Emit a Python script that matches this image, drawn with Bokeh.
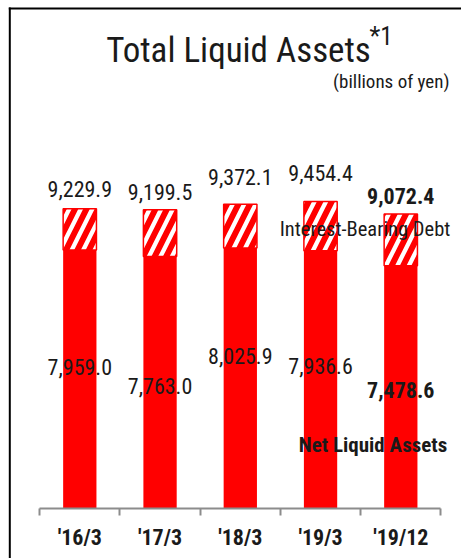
from bokeh.plotting import figure
from bokeh.models import ColumnDataSource, LinearAxis, FixedTicker, Range1d
from bokeh.core.properties import value
from bokeh.embed import file_html
from bokeh.resources import INLINE

# ---- data ----
categories = ["'16/3", "'17/3", "'18/3", "'19/3", "'19/12"]
total_liquid = [9229.9, 9199.5, 9372.1, 9454.4, 9072.4]
net_liquid = [7959.0, 7763.0, 8025.9, 7936.6, 7478.6]
total_labels = ["9,229.9", "9,199.5", "9,372.1", "9,454.4", "9,072.4"]
net_labels = ["7,959.0", "7,763.0", "8,025.9", "7,936.6", "7,478.6"]
label_weight = ["normal", "normal", "normal", "normal", "bold"]

# ---- layout (pixels) ----
W, H = 461, 558
SCALE = 0.03247          # pixels per billion yen
ZERO_PX = 508            # canvas y of zero
CAT_PX = 80.25           # pixels per category
X0_PX = 79.3             # canvas x of first category centre
BASE_FIX = 0.36          # baseline correction (fraction of font size)

top_gap_px = [12, 10, 19, 21, 10]
net_gap_px = [125, 137.5, 116, 123, 132]
VAL_SIZE = 22

FONT = "Roboto Condensed, DejaVu Sans Condensed, Arial Narrow, Liberation Sans, sans-serif"
TXT = "#1a1a1a"
RED = "#ff0000"

def dy(page_y):
    return (ZERO_PX - page_y) / SCALE

def dx(page_x):
    return (page_x - X0_PX) / CAT_PX

x = list(range(len(categories)))

p = figure(width=W, height=H, output_backend="svg", toolbar_location=None,
           x_axis_location=None, y_axis_location=None, min_border=0,
           x_range=Range1d(dx(0), dx(W)),
           y_range=Range1d(dy(H), dy(0)))
p.outline_line_color = None
p.background_fill_color = "white"
p.border_fill_color = "white"
p.xgrid.visible = False
p.ygrid.visible = False
p.grid.grid_line_color = None

# frame lines (top and left)
p.segment(x0=[dx(8.3)], y0=[dy(8)], x1=[dx(W + 5)], y1=[dy(8)],
          line_color="black", line_width=2)
p.segment(x0=[dx(9.3)], y0=[dy(7)], x1=[dx(9.3)], y1=[dy(H + 5)],
          line_color="black", line_width=2)

fix = BASE_FIX * VAL_SIZE
src = ColumnDataSource(dict(
    x=x, cat=categories, total=total_liquid, net=net_liquid,
    tlab=total_labels, nlab=net_labels, weight=label_weight,
    ty=[t + (g + fix) / SCALE for t, g in zip(total_liquid, top_gap_px)],
    ny=[n - (g - fix) / SCALE for n, g in zip(net_liquid, net_gap_px)],
))

BW = 0.415
p.vbar(x="x", bottom=0, top="net", width=BW, source=src,
       fill_color=RED, line_color=None)
p.vbar(x="x", bottom="net", top="total", width=BW, source=src,
       fill_color="white", line_color=RED, line_width=1.5,
       hatch_pattern="/", hatch_color=RED, hatch_scale=23, hatch_weight=6)

ax = LinearAxis(fixed_location=0, bounds=(-0.5, len(categories) - 0.5),
                ticker=FixedTicker(ticks=x,
                                   minor_ticks=[i - 0.5 for i in range(len(categories) + 1)]))
ax.major_label_overrides = {i: c for i, c in zip(x, categories)}
ax.axis_line_color = "#8c8c8c"
ax.axis_line_width = 2
ax.major_tick_line_color = None
ax.major_tick_in = 0
ax.major_tick_out = 0
ax.minor_tick_line_color = "#8c8c8c"
ax.minor_tick_line_width = 2
ax.minor_tick_in = 0
ax.minor_tick_out = 7
ax.major_label_standoff = 9
ax.major_label_text_font = FONT
ax.major_label_text_font_size = "22px"
ax.major_label_text_font_style = "bold"
ax.major_label_text_color = TXT
p.add_layout(ax, "below")

p.text(x="x", y="ty", text="tlab", source=src, text_font=value(FONT),
       text_font_size=f"{VAL_SIZE}px", text_font_style="weight", text_align="center",
       text_baseline="alphabetic", text_color=TXT)
p.text(x="x", y="ny", text="nlab", source=src, text_font=value(FONT),
       text_font_size=f"{VAL_SIZE}px", text_font_style="weight", text_align="center",
       text_baseline="alphabetic", text_color=TXT)

def put(txt, px_, py_, size, align="center", style="normal"):
    p.text(x=[dx(px_)], y=[dy(py_ - BASE_FIX * size)], text=[txt], text_font=value(FONT),
           text_font_size=f"{size}px", text_font_style=style, text_align=align,
           text_baseline="alphabetic", text_color=TXT)

put("Total Liquid Assets", 238, 63, 35)
put("*1", 369, 45, 25, align="left")
put("(billions of yen)", 449, 88, 19, align="right")
put("Interest-Bearing Debt", 364.5, 236, 20.5)
put("Net Liquid Assets", 372.5, 452, 21, style="bold")

open("out.html", "w").write(file_html(p, INLINE))
